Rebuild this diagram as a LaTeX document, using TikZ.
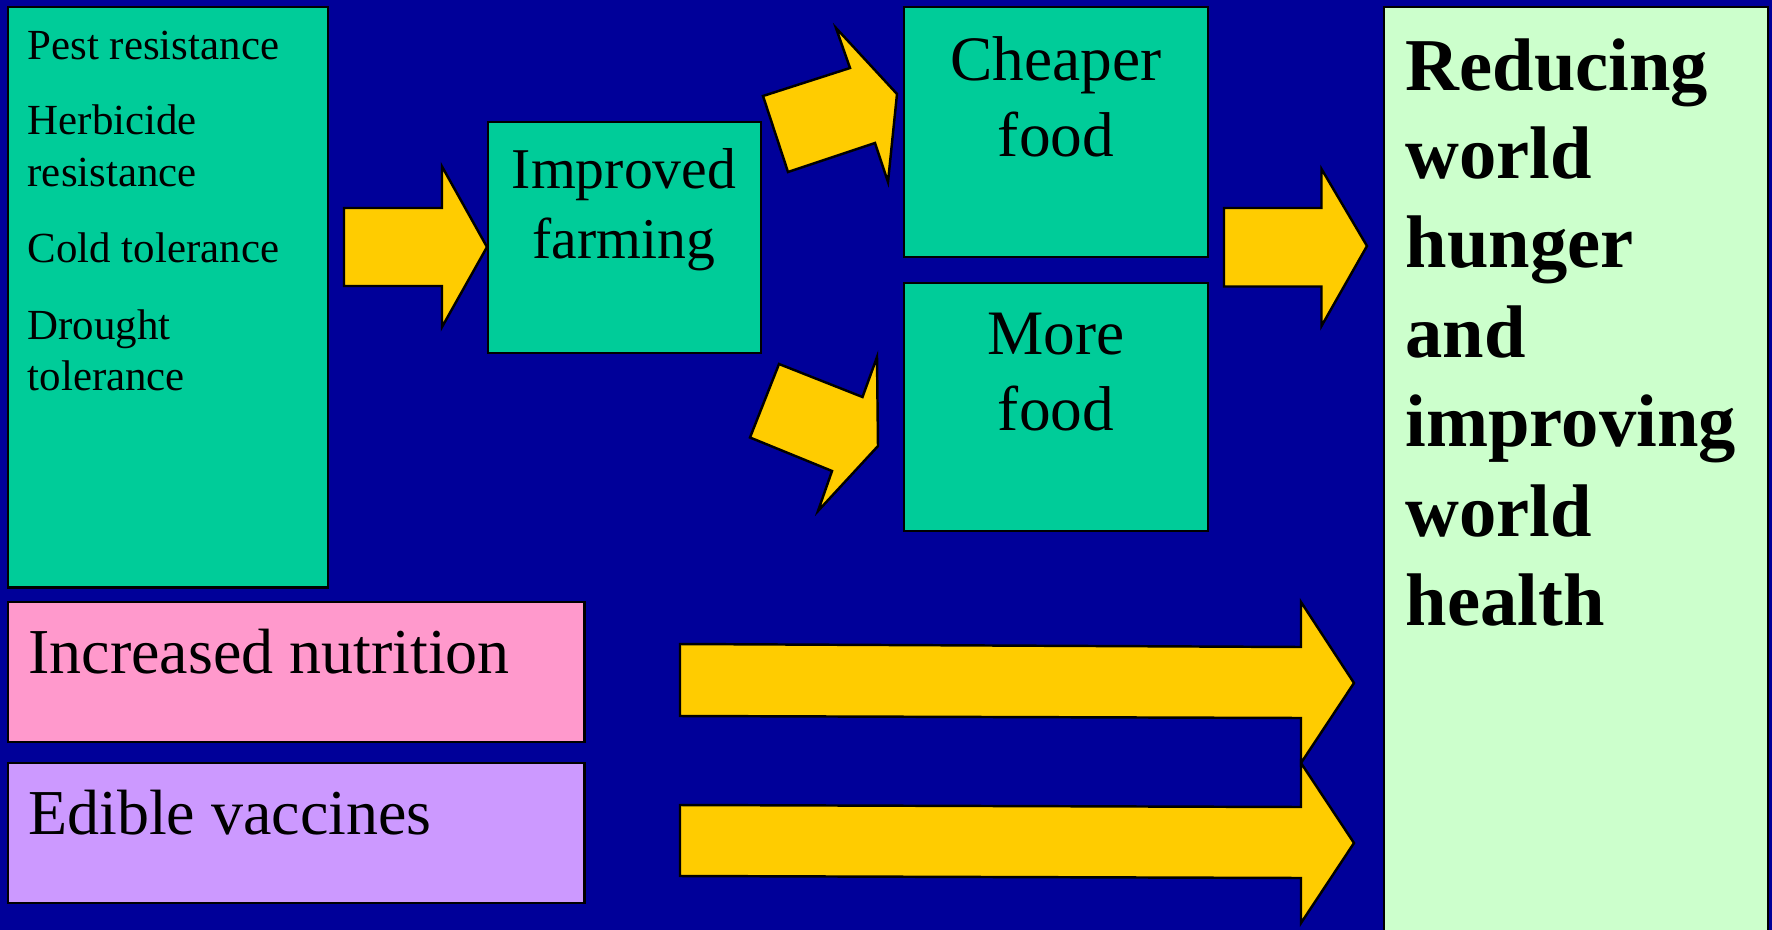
\documentclass[tikz,border=0pt]{standalone}
\usepackage{fontspec}
\setmainfont{Liberation Serif}

\definecolor{slideblue}{HTML}{000099}
\definecolor{traitgreen}{HTML}{00CC99}
\definecolor{arrowyellow}{HTML}{FFCC00}
\definecolor{nutripink}{HTML}{FF99CC}
\definecolor{vaccinelilac}{HTML}{CC99FF}
\definecolor{goalgreen}{HTML}{CCFFCC}

\begin{document}
\begin{tikzpicture}[x=0.01cm, y=-0.01cm,
    box/.style={draw=black, line width=0.7pt, anchor=north west, inner sep=0pt, outer sep=0pt},
    blockarrow/.style={draw=black, line width=0.7pt, fill=arrowyellow, line join=miter},
    lbl/.style={inner sep=0pt, text=black}]
        \fill[slideblue] (0,0) rectangle (1772,930);
        \useasboundingbox (0,0) rectangle (1772,930);

        % Boxes
        \node[box, fill=traitgreen, minimum width=3.20cm, minimum height=5.80cm] (traits) at (8,7) {};
        \node[box, fill=traitgreen, minimum width=2.73cm, minimum height=2.31cm] (farming) at (488,122) {};
        \node[box, fill=traitgreen, minimum width=3.04cm, minimum height=2.50cm] (cheaper) at (904,7) {};
        \node[box, fill=traitgreen, minimum width=3.04cm, minimum height=2.48cm] (more) at (904,283) {};
        \node[box, fill=nutripink, minimum width=5.76cm, minimum height=1.40cm] (nutrition) at (8,602) {};
        \node[box, fill=vaccinelilac, minimum width=5.76cm, minimum height=1.40cm] (vaccines) at (8,763) {};
        \node[box, fill=goalgreen, minimum width=3.84cm, minimum height=9.40cm] (goal) at (1384,7) {};

        % Texts
        \foreach \t/\y [count=\i] in {Pest resistance/59.3, Herbicide/134.7, resistance/186.4,
                                      Cold tolerance/262.9, Drought/339.5, tolerance/390.4} {
          \node[lbl, anchor=base west, font=\fontsize{12.2}{14.6}\selectfont] (trait\i) at (27,\y) {\t};
        }
        \node[lbl, anchor=base, font=\fontsize{16.4}{19.7}\selectfont] (farmtop) at (624,188) {Improved};
        \node[lbl, anchor=base, font=\fontsize{16.4}{19.7}\selectfont] (farmbot) at (624,258) {farming};
        \node[lbl, anchor=base, font=\fontsize{18}{21.6}\selectfont] (cheaptop) at (1056,80) {Cheaper};
        \node[lbl, anchor=base, font=\fontsize{18}{21.6}\selectfont] (cheapbot) at (1056,156) {food};
        \node[lbl, anchor=base, font=\fontsize{18}{21.6}\selectfont] (moretop) at (1056,354) {More};
        \node[lbl, anchor=base, font=\fontsize{18}{21.6}\selectfont] (morebot) at (1056,430) {food};
        \node[lbl, anchor=base west, font=\fontsize{18.2}{21.8}\selectfont] (nutritiontext) at (27.6,673.3) {Increased nutrition};
        \node[lbl, anchor=base west, font=\fontsize{18.2}{21.8}\selectfont] (vaccinetext) at (27.6,834.3) {Edible vaccines};
        \foreach \t/\y [count=\i] in {Reducing/90.2, world/178, hunger/267, and/357,
                                      improving/446, world/536.8, health/625.7} {
          \node[lbl, anchor=base west, font=\bfseries\fontsize{21.2}{25.4}\selectfont] (goal\i) at (1405,\y) {\t};
        }

        % Block arrows
        \draw[blockarrow] (344,208) -- (442,208) -- (442,166.5) -- (487,247) -- (442,327) -- (442,286) -- (344,286) -- cycle;
        \draw[blockarrow] (1224,208) -- (1321.5,208) -- (1321.5,169) -- (1367,246) -- (1321.5,326) -- (1321.5,286.5) -- (1224,286.5) -- cycle;
        \draw[blockarrow] (763,96) -- (850,68) -- (836,28) -- (897,94) -- (888,182) -- (875,143) -- (788,172) -- cycle;
        \draw[blockarrow] (779,364) -- (862.5,397) -- (877,357) -- (878,446) -- (818,511) -- (832,471) -- (750,437.5) -- cycle;
        \draw[blockarrow] (680,644) -- (1301,647) -- (1301,602) -- (1354,683) -- (1301,763) -- (1301,718) -- (680,716) -- cycle;
        \draw[blockarrow] (680,805) -- (1301,807) -- (1301,763) -- (1354,843) -- (1301,923) -- (1301,878) -- (680,876) -- cycle;
    \end{tikzpicture}
\end{document}
